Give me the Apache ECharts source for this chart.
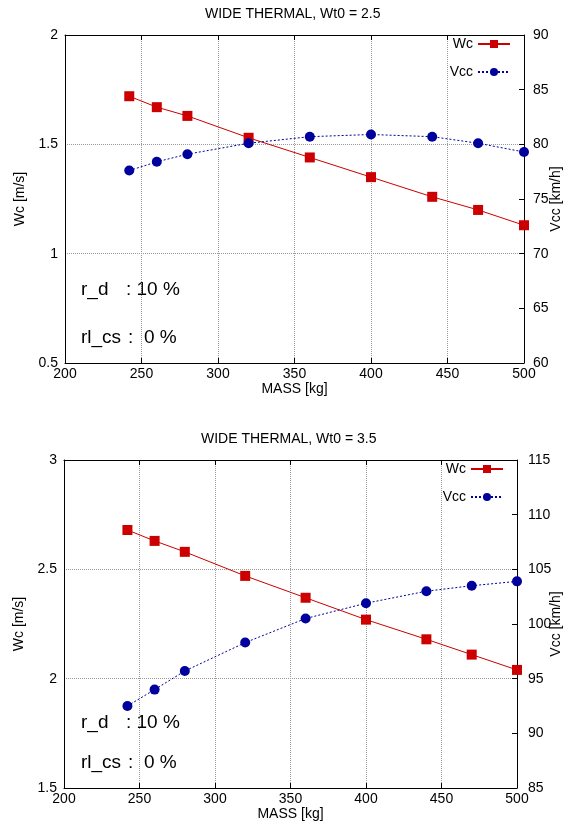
<!DOCTYPE html>
<html>
<head>
<meta charset="utf-8">
<script src="https://cdn.jsdelivr.net/npm/echarts@6/dist/echarts.min.js"></script>
<style>
html,body{margin:0;padding:0;background:#fff;}
#c{width:569px;height:825px;}
</style>
</head>
<body>
<div id="c"></div>
<script>
const masses = [242, 260, 280, 320, 360, 400, 440, 470, 500];
const wcTop = [1.72, 1.67, 1.63, 1.53, 1.44, 1.35, 1.26, 1.20, 1.13];
const vccTop = [77.6, 78.4, 79.1, 80.1, 80.7, 80.9, 80.7, 80.1, 79.3];
const wcBottom = [2.68, 2.63, 2.58, 2.47, 2.37, 2.27, 2.18, 2.11, 2.04];
const vccBottom = [92.5, 94.0, 95.7, 98.3, 100.5, 101.9, 103.0, 103.5, 103.9];
const titles = ['WIDE THERMAL, Wt0 = 2.5', 'WIDE THERMAL, Wt0 = 3.5'];
const leftRanges = [[0.5, 2, 0.5], [1.5, 3, 0.5]];
const rightRanges = [[60, 90, 5], [85, 115, 5]];
const notes = [['r_d', ': 10 %'], ['rl_cs', ':', '0 %']];

const FONT = 'Liberation Sans, Arial, Helvetica, sans-serif';
const RED = '#cc0000';
const BLUE = '#00009c';
const pairs = (xs, ys) => xs.map((x, i) => [x, ys[i]]);

const grids = [
  {left: 65, top: 35, width: 459, height: 328, containLabel: false, outerBoundsMode: 'none'},
  {left: 64, top: 460, width: 453, height: 328, containLabel: false, outerBoundsMode: 'none'}
];

const xAxes = [], yAxes = [], series = [], legends = [], titleComps = [], graphics = [];
const wcData = [wcTop, wcBottom];
const vccData = [vccTop, vccBottom];

grids.forEach((g, i) => {
  xAxes.push({
    type: 'value', gridIndex: i, min: 200, max: 500, interval: 50, position: 'bottom',
    name: 'MASS [kg]', nameLocation: 'middle', nameGap: 19, nameMoveOverlap: false,
    nameTextStyle: {fontFamily: FONT, fontSize: 14, color: '#000'},
    axisLine: {show: true, lineStyle: {color: '#000', width: 1}},
    axisTick: {show: true, inside: true, length: 5, lineStyle: {color: '#000'}},
    axisLabel: {fontFamily: FONT, fontSize: 14, color: '#000', margin: 4},
    splitLine: {show: true, lineStyle: {color: '#999', type: [1, 1], width: 1}}
  });
  xAxes.push({
    type: 'value', gridIndex: i, min: 200, max: 500, interval: 50, position: 'top',
    axisLine: {show: true, lineStyle: {color: '#000', width: 1}},
    axisTick: {show: true, inside: true, length: 5, lineStyle: {color: '#000'}},
    axisLabel: {show: false}, splitLine: {show: false}
  });
  yAxes.push({
    type: 'value', gridIndex: i, position: 'left',
    min: leftRanges[i][0], max: leftRanges[i][1], interval: leftRanges[i][2],
    name: 'Wc [m/s]', nameLocation: 'middle', nameGap: 38, nameMoveOverlap: false,
    nameTextStyle: {fontFamily: FONT, fontSize: 14, color: '#000'},
    axisLine: {show: true, lineStyle: {color: '#000', width: 1}},
    axisTick: {show: false},
    axisLabel: {fontFamily: FONT, fontSize: 14, color: '#000', margin: 7},
    splitLine: {show: true, lineStyle: {color: '#999', type: [1, 1], width: 1}}
  });
  yAxes.push({
    type: 'value', gridIndex: i, position: 'right',
    min: rightRanges[i][0], max: rightRanges[i][1], interval: rightRanges[i][2],
    name: 'Vcc [km/h]', nameLocation: 'middle', nameGap: i === 0 ? 25 : 32, nameMoveOverlap: false,
    nameTextStyle: {fontFamily: FONT, fontSize: 14, color: '#000'},
    axisLine: {show: true, lineStyle: {color: '#000', width: 1}},
    axisTick: {show: true, inside: true, length: 5, lineStyle: {color: '#000'}},
    axisLabel: {fontFamily: FONT, fontSize: 14, color: '#000', margin: i === 0 ? 9 : 11},
    splitLine: {show: false}
  });
  series.push({
    name: 'Wc', type: 'line', xAxisIndex: 2 * i, yAxisIndex: 2 * i,
    data: pairs(masses, wcData[i]), symbol: 'rect', symbolSize: 10,
    itemStyle: {color: RED}, lineStyle: {color: RED, width: 1}, clip: false
  });
  series.push({
    name: 'Vcc', type: 'line', xAxisIndex: 2 * i, yAxisIndex: 2 * i + 1,
    data: pairs(masses, vccData[i]), symbol: 'circle', symbolSize: 10,
    itemStyle: {color: BLUE}, lineStyle: {color: BLUE, width: 1, type: [2, 2]}, clip: false
  });
  legends.push({
    orient: 'vertical', align: 'right', padding: 0,
    right: i === 0 ? 58 : 65, top: i === 0 ? 37 : 462,
    itemWidth: 32, itemHeight: 10, itemGap: 14,
    textStyle: {fontFamily: FONT, fontSize: 14, color: '#000', lineHeight: 14},
    data: ['Wc', 'Vcc']
  });
  titleComps.push({
    text: titles[i], left: i === 0 ? 205 : 201, top: i === 0 ? 7 : 432, padding: 0,
    textStyle: {fontFamily: FONT, fontSize: 14, fontWeight: 'normal', color: '#000'}
  });
});

const noteStyle = {fontFamily: FONT, fontSize: 19, fill: '#000'};
const noteY = [[291, 339], [724, 764]];
[0, 1].forEach(i => {
  graphics.push({type: 'text', left: 81, top: noteY[i][0] - 11, style: Object.assign({text: notes[0][0]}, noteStyle)});
  graphics.push({type: 'text', left: 126, top: noteY[i][0] - 11, style: Object.assign({text: notes[0][1]}, noteStyle)});
  graphics.push({type: 'text', left: 81, top: noteY[i][1] - 11, style: Object.assign({text: notes[1][0]}, noteStyle)});
  graphics.push({type: 'text', left: 128, top: noteY[i][1] - 11, style: Object.assign({text: notes[1][1]}, noteStyle)});
  graphics.push({type: 'text', left: 144, top: noteY[i][1] - 11, style: Object.assign({text: notes[1][2]}, noteStyle)});
});

const chart = echarts.init(document.getElementById('c'), null, {renderer: 'canvas'});
chart.setOption({
  animation: false,
  backgroundColor: '#fff',
  title: titleComps,
  legend: legends,
  grid: grids,
  xAxis: xAxes,
  yAxis: yAxes,
  series: series,
  graphic: graphics
});
</script>
</body>
</html>
